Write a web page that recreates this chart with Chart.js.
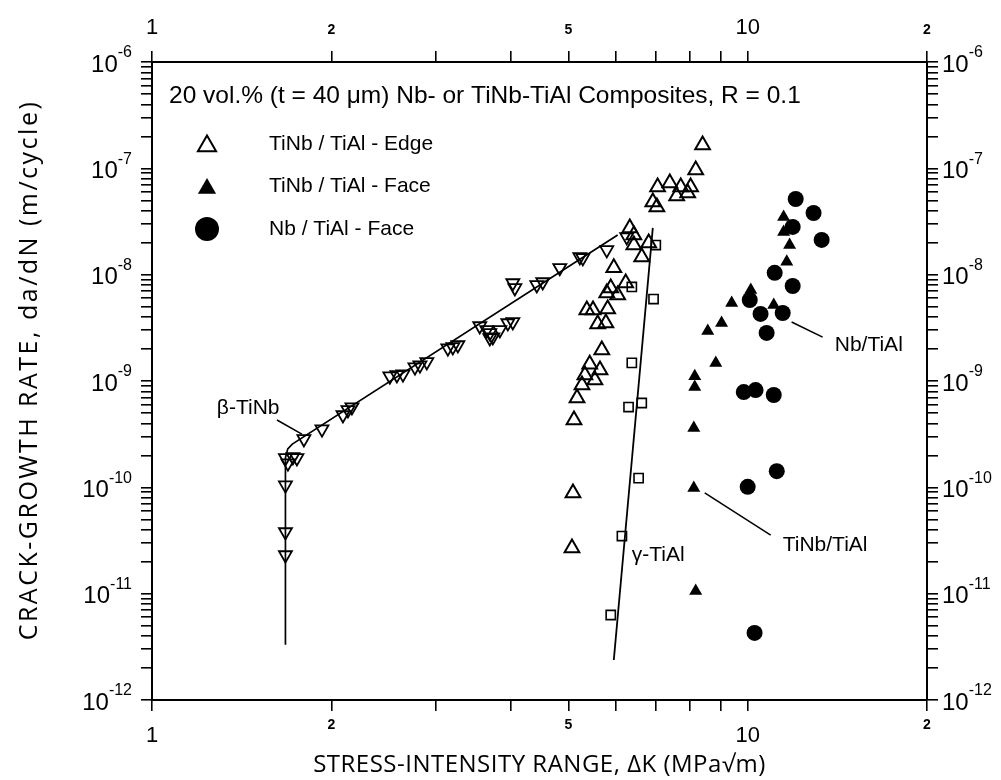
<!DOCTYPE html>
<html><head><meta charset="utf-8">
<script src="https://cdn.jsdelivr.net/npm/chart.js@4.4.0/dist/chart.umd.min.js"></script>
<style>html,body{margin:0;padding:0;background:#fff;}#wrap{width:1001px;height:780px;position:relative;}</style>
</head><body><div id="wrap"><canvas id="c" width="1001" height="780"></canvas></div>
<script>
// ---------- data ----------
const xTickValues = [1,2,3,4,5,6,7,8,9,10,20];
const xLabelValues = [1,2,5,10,20];
const xLabelTexts = ['1','2','5','10','2'];
const yDecadeExps = [-12,-11,-10,-9,-8,-7,-6];

const betaK = [1.675,1.724,1.751,1.691,1.675,1.675,1.675,1.799,1.929,2.092,2.133,2.166,2.508,2.577,2.638,2.763,2.817,2.893,3.138,3.199,3.262,3.550,3.648,3.691,3.734,3.837,3.957,4.034,3.691,4.034,4.066,4.426,4.529,4.837,5.226,5.287,5.800,6.266];
const betaRate = [1.89e-10,1.93e-10,1.89e-10,1.69e-10,1.05e-10,3.8e-11,2.31e-11,2.85e-10,3.53e-10,4.79e-10,5.34e-10,5.69e-10,1.11e-9,1.14e-9,1.16e-9,1.35e-9,1.41e-9,1.51e-9,2.04e-9,2.09e-9,2.18e-9,3.29e-9,3.02e-9,2.83e-9,2.59e-9,3.02e-9,3.51e-9,3.59e-9,2.54e-9,8.35e-9,7.5e-9,8.0e-9,8.53e-9,1.16e-8,1.47e-8,1.44e-8,1.71e-8,2.26e-8];

const gammaK = [7.01,6.39,6.95,6.39,6.31,6.64,6.56,6.15,5.89];
const gammaRate = [1.90e-8,7.66e-9,5.90e-9,1.48e-9,5.69e-10,6.21e-10,1.22e-10,3.48e-11,6.30e-12];

const edgeK = [8.40,8.18,7.06,7.40,7.72,8.02,7.60,7.93,6.93,7.04,6.34,6.44,6.44,6.82,6.64,5.96,6.24,5.89,5.80,6.05,5.37,5.50,5.82,5.60,5.78,5.69,5.43,5.65,5.33,5.54,5.27,5.17,5.11,5.09,5.07];
const edgeRate = [1.66e-7,9.64e-8,6.68e-8,7.28e-8,6.68e-8,6.68e-8,5.50e-8,5.86e-8,4.82e-8,4.33e-8,2.75e-8,2.36e-8,1.90e-8,1.99e-8,1.47e-8,1.16e-8,8.35e-9,7.50e-9,6.73e-9,6.44e-9,4.66e-9,4.66e-9,4.76e-9,3.44e-9,3.51e-9,1.96e-9,1.44e-9,1.27e-9,1.14e-9,1.02e-9,9.17e-10,6.92e-10,4.30e-10,8.85e-11,2.69e-11];

const faceK = [11.49,11.49,11.76,11.63,10.12,11.06,9.40,9.04,8.57,8.84,8.15,8.15,8.12,8.12,8.18];
const faceRate = [3.49e-8,2.52e-8,1.90e-8,1.32e-8,7.18e-9,5.19e-9,5.41e-9,3.51e-9,2.95e-9,1.48e-9,1.11e-9,8.77e-10,3.61e-10,9.86e-11,1.06e-11];

const nbK = [12.04,12.90,11.90,13.31,11.10,11.90,10.08,10.51,11.45,10.76,9.85,10.31,11.06,11.19,10.00,10.27];
const nbRate = [5.15e-8,3.80e-8,2.81e-8,2.12e-8,1.04e-8,7.82e-9,5.78e-9,4.27e-9,4.36e-9,2.83e-9,7.87e-10,8.22e-10,7.38e-10,1.42e-10,1.01e-10,4.27e-12];

const betaLineK = [1.675,1.675,1.69,1.72,6.05];
const betaLineRate = [3.3e-12,1.9e-10,2.3e-10,2.55e-10,2.36e-8];
const gammaLineK = [5.96,6.93];
const gammaLineRate = [2.38e-12,2.75e-8];

const legendTitle = '20 vol.% (t = 40 \u03bcm) Nb- or TiNb-TiAl Composites, R = 0.1';
const legendLabels = ['TiNb / TiAl - Edge','TiNb / TiAl - Face','Nb / TiAl - Face'];
const xTitle = 'STRESS-INTENSITY RANGE, \u0394K (MPa\u221am)';
const yTitle = 'CRACK-GROWTH RATE, da/dN (m/cycle)';
// annotations: [text, textK, textRate, lineK1, lineRate1, lineK2, lineRate2]
const annotations = [
  ['\u03b2-TiNb', 1.285, 5.57e-10, 1.621, 4.30e-10, 1.785, 3.17e-10],
  ['\u03b3-TiAl', 6.39, 2.31e-11, null, null, null, null],
  ['Nb/TiAl', 14.0, 2.18e-9, 11.85, 3.59e-9, 13.36, 2.59e-9],
  ['TiNb/TiAl', 11.45, 2.87e-11, 8.47, 8.85e-11, 10.93, 3.56e-11]
];

// ---------- helpers ----------
const pts = (xs, ys) => xs.map((x, i) => ({x: x, y: ys[i]}));
const yTickValues = (() => {
  const t = [];
  for (let e = -12; e < -6; e++) for (let m = 1; m <= 9; m++) t.push(m * Math.pow(10, e));
  t.push(1e-6);
  return t;
})();
const FONT = '"Liberation Sans", Arial, sans-serif';
const TITLEFONT = '"Open Sans", "DejaVu Sans", sans-serif';

function scaleCommon(pos, isX) {
  return {
    type: 'logarithmic',
    position: pos,
    min: isX ? 1 : 1e-12,
    max: isX ? 20 : 1e-6,
    afterBuildTicks: s => { s.ticks = (isX ? xTickValues : yTickValues).map(v => ({value: v})); },
    ticks: {callback: () => '', autoSkip: false, padding: 0},
    grid: {drawOnChartArea: false, drawTicks: true, tickLength: 11, color: '#000', lineWidth: 1.6},
    border: {display: true, color: '#000', width: 2},
    afterFit: s => {
      if (pos === 'bottom') s.height = 80;
      if (pos === 'top') s.height = 62;
      if (pos === 'left') s.width = 152;
      if (pos === 'right') s.width = 74;
    }
  };
}

function marker(ctx, style, x, y, r, fill, rot) {
  ctx.save();
  ctx.beginPath();
  if (style === 'circle') ctx.arc(x, y, r, 0, Math.PI * 2);
  else {
    const a0 = (rot || 0) * Math.PI / 180;
    for (let k = 0; k < 3; k++) {
      const a = a0 + k * 2 * Math.PI / 3;
      const px = x + Math.sin(a) * r, py = y - Math.cos(a) * r;
      if (k === 0) ctx.moveTo(px, py); else ctx.lineTo(px, py);
    }
    ctx.closePath();
  }
  if (fill) { ctx.fillStyle = '#000'; ctx.fill(); }
  else { ctx.lineWidth = 2; ctx.strokeStyle = '#000'; ctx.stroke(); }
  ctx.restore();
}

function drawPow(ctx, x, yc, exp, align) {
  const base = '10', sup = '-' + Math.abs(exp);
  ctx.font = '24px ' + FONT;
  const bw = ctx.measureText(base).width;
  ctx.font = '16px ' + FONT;
  const sw = ctx.measureText(sup).width;
  const x0 = align === 'right' ? x - bw - sw : x;
  ctx.textAlign = 'left';
  ctx.textBaseline = 'middle';
  ctx.font = '24px ' + FONT;
  ctx.fillText(base, x0, yc + 3);
  ctx.font = '16px ' + FONT;
  ctx.fillText(sup, x0 + bw, yc - 9);
}

const textPlugin = {
  id: 'texts',
  afterDraw(chart) {
    const ctx = chart.ctx, xs = chart.scales.x, ys = chart.scales.y;
    const ca = chart.chartArea;
    ctx.save();
    ctx.fillStyle = '#000';
    // y tick labels
    yDecadeExps.forEach(e => {
      const py = ys.getPixelForValue(Math.pow(10, e));
      drawPow(ctx, 132, py, e, 'right');
      drawPow(ctx, ca.right + 15, py, e, 'left');
    });
    // x tick labels
    xLabelValues.forEach((v, i) => {
      const px = xs.getPixelForValue(v);
      const big = Math.abs(Math.log10(v) - Math.round(Math.log10(v))) < 1e-9;
      ctx.textAlign = 'center';
      ctx.textBaseline = 'middle';
      if (big) {
        ctx.font = '22px ' + FONT;
        ctx.fillText(xLabelTexts[i], px, ca.bottom + 36);
        ctx.fillText(xLabelTexts[i], px, ca.top - 34);
      } else {
        ctx.font = 'bold 14px ' + FONT;
        ctx.fillText(xLabelTexts[i], px, ca.bottom + 25);
        ctx.fillText(xLabelTexts[i], px, ca.top - 32);
      }
    });
    // axis titles
    ctx.textAlign = 'center';
    ctx.textBaseline = 'middle';
    ctx.font = '24px ' + TITLEFONT;
    try { ctx.letterSpacing = '0.5px'; } catch (e) {}
    ctx.fillText(xTitle, (ca.left + ca.right) / 2, 765);
    ctx.save();
    ctx.translate(30, 370);
    ctx.rotate(-Math.PI / 2);
    ctx.font = '25px ' + TITLEFONT;
    try { ctx.letterSpacing = '2.5px'; } catch (e) {}
    ctx.fillText(yTitle, 0, 0);
    ctx.restore();
    try { ctx.letterSpacing = '0px'; } catch (e) {}
    // legend
    ctx.textAlign = 'left';
    ctx.font = '24.5px ' + FONT;
    ctx.fillText(legendTitle, ca.left + 17, ca.top + 34);
    ctx.font = '21px ' + FONT;
    const styles = [['triangle', false], ['triangle', true], ['circle', true]];
    legendLabels.forEach((lab, i) => {
      const yy = ca.top + 82 + i * 42.5;
      marker(ctx, styles[i][0], ca.left + 55, yy + (styles[i][0] === 'circle' ? 0 : 2), styles[i][0] === 'circle' ? 12 : 10.5, styles[i][1], 0);
      ctx.fillText(lab, ca.left + 117, yy);
    });
    // annotations
    ctx.font = '21px ' + FONT;
    ctx.lineWidth = 1.5;
    ctx.strokeStyle = '#000';
    annotations.forEach(a => {
      ctx.fillText(a[0], xs.getPixelForValue(a[1]), ys.getPixelForValue(a[2]));
      if (a[3] !== null) {
        ctx.beginPath();
        ctx.moveTo(xs.getPixelForValue(a[3]), ys.getPixelForValue(a[4]));
        ctx.lineTo(xs.getPixelForValue(a[5]), ys.getPixelForValue(a[6]));
        ctx.stroke();
      }
    });
    ctx.restore();
  }
};

const open = 'rgba(0,0,0,0)';
new Chart(document.getElementById('c'), {
  type: 'scatter',
  data: {
    datasets: [
      {label: 'Nb / TiAl - Face', data: pts(nbK, nbRate), pointStyle: 'circle', pointRadius: 8, backgroundColor: '#000', borderColor: '#000', borderWidth: 0, order: 1},
      {label: 'TiNb / TiAl - Face', data: pts(faceK, faceRate), pointStyle: 'triangle', pointRadius: 7.5, backgroundColor: '#000', borderColor: '#000', borderWidth: 0, order: 2},
      {label: 'TiNb / TiAl - Edge', data: pts(edgeK, edgeRate), pointStyle: 'triangle', pointRadius: 8.5, backgroundColor: open, borderColor: '#000', borderWidth: 2, order: 3},
      {label: 'gamma-TiAl', data: pts(gammaK, gammaRate), pointStyle: 'rect', pointRadius: 6.5, backgroundColor: open, borderColor: '#000', borderWidth: 1.6, order: 4},
      {label: 'beta-TiNb', data: pts(betaK, betaRate), pointStyle: 'triangle', pointRotation: 180, pointRadius: 7.5, backgroundColor: open, borderColor: '#000', borderWidth: 1.8, order: 5},
      {label: 'beta line', data: pts(betaLineK, betaLineRate), showLine: true, pointRadius: 0, borderColor: '#000', borderWidth: 1.7, tension: 0, order: 10},
      {label: 'gamma line', data: pts(gammaLineK, gammaLineRate), showLine: true, pointRadius: 0, borderColor: '#000', borderWidth: 1.8, order: 11}
    ]
  },
  options: {
    responsive: false,
    animation: false,
    devicePixelRatio: 1,
    layout: {padding: 0},
    plugins: {legend: {display: false}, tooltip: {enabled: false}},
    scales: {
      x: scaleCommon('bottom', true),
      x2: scaleCommon('top', true),
      y: scaleCommon('left', false),
      y2: scaleCommon('right', false)
    }
  },
  plugins: [textPlugin]
});
</script></body></html>
